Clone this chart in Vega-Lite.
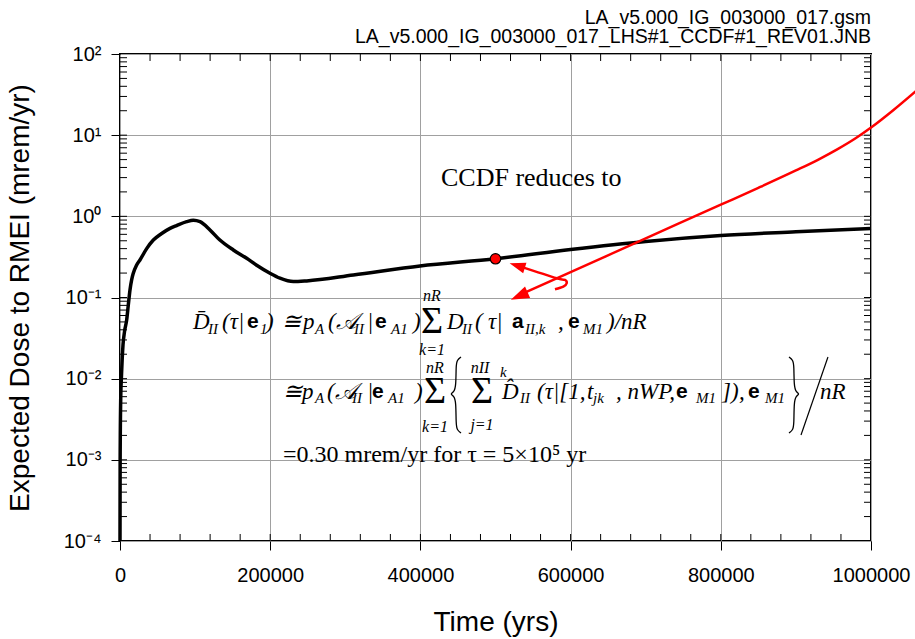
{
  "$schema": "https://vega.github.io/schema/vega-lite/v6.json",
  "width": 751,
  "height": 487,
  "autosize": {"type": "none"},
  "padding": {"left": 120, "top": 54, "right": 44, "bottom": 98},
  "background": "white",
  "title": {"text": ["LA_v5.000_IG_003000_017.gsm", "LA_v5.000_IG_003000_017_LHS#1_CCDF#1_REV01.JNB"], "anchor": "end", "frame": "group", "font": "Liberation Sans", "fontSize": 19.5, "fontWeight": "normal", "color": "black", "lineHeight": 19, "offset": -3},
  "config": {
    "view": {"stroke": "black", "strokeWidth": 2},
    "axis": {"labelFont": "Liberation Sans", "labelFontSize": 20, "labelColor": "black", "titleFont": "Liberation Sans", "titleFontSize": 28, "titleFontWeight": "normal", "titleColor": "black", "tickColor": "black", "tickWidth": 1, "domain": false, "gridColor": "#a0a0a0", "gridOpacity": 1, "gridWidth": 1}
  },
  "datasets": {
    "curve": [{"x":0,"y":0.0001},{"x":200,"y":0.001},{"x":1000,"y":0.006},{"x":2000,"y":0.011},{"x":4000,"y":0.026},{"x":6000,"y":0.038},{"x":8900,"y":0.053},{"x":11000,"y":0.08},{"x":13300,"y":0.124},{"x":15500,"y":0.165},{"x":17700,"y":0.199},{"x":22000,"y":0.25},{"x":26600,"y":0.29},{"x":35500,"y":0.4},{"x":44400,"y":0.51},{"x":55000,"y":0.61},{"x":66600,"y":0.71},{"x":75400,"y":0.77},{"x":88800,"y":0.86},{"x":97600,"y":0.895},{"x":106500,"y":0.86},{"x":119800,"y":0.68},{"x":133000,"y":0.51},{"x":150900,"y":0.385},{"x":168700,"y":0.304},{"x":182000,"y":0.25},{"x":199700,"y":0.199},{"x":213000,"y":0.173},{"x":230800,"y":0.157},{"x":248600,"y":0.16},{"x":310700,"y":0.189},{"x":399500,"y":0.244},{"x":500000,"y":0.3},{"x":600000,"y":0.39},{"x":700000,"y":0.49},{"x":800000,"y":0.58},{"x":900000,"y":0.645},{"x":1000000,"y":0.71}],
    "red": [{"x":533000,"y":0.1085},{"x":600000,"y":0.2058},{"x":700000,"y":0.5353},{"x":800000,"y":1.391},{"x":850000,"y":2.244},{"x":900000,"y":3.673},{"x":930000,"y":5.012},{"x":955000,"y":6.683},{"x":980000,"y":9.226},{"x":1001000,"y":12.59},{"x":1030000,"y":20.42},{"x":1062000,"y":36.31}],
    "hook": [{"i":1,"x":530360,"y":0.2451},{"i":2,"x":581500,"y":0.1725},{"i":3,"x":592500,"y":0.1644},{"i":4,"x":594800,"y":0.1496},{"i":5,"x":590300,"y":0.1358},{"i":6,"x":579200,"y":0.1262}],
    "pt": [{"x":500000,"y":0.3}],
    "ah1": [{"x":533157,"y":0.1062}],
    "ah2": [{"x":530360,"y":0.2451}],
    "slash": [{"x":942700,"y":0.01849},{"x":906800,"y":0.002023}],
    "xminor": [{"v":40000},{"v":80000},{"v":120000},{"v":160000},{"v":200000},{"v":240000},{"v":280000},{"v":320000},{"v":360000},{"v":400000},{"v":440000},{"v":480000},{"v":520000},{"v":560000},{"v":600000},{"v":640000},{"v":680000},{"v":720000},{"v":760000},{"v":800000},{"v":840000},{"v":880000},{"v":920000},{"v":960000}],
    "yminor": [{"v":0.0002},{"v":0.0003},{"v":0.0004},{"v":0.0005},{"v":0.0006},{"v":0.0007},{"v":0.0008},{"v":0.0009},{"v":0.001},{"v":0.002},{"v":0.003},{"v":0.004},{"v":0.005},{"v":0.006},{"v":0.007},{"v":0.008},{"v":0.009},{"v":0.01},{"v":0.02},{"v":0.03},{"v":0.04},{"v":0.05},{"v":0.06},{"v":0.07},{"v":0.08},{"v":0.09},{"v":0.1},{"v":0.2},{"v":0.3},{"v":0.4},{"v":0.5},{"v":0.6},{"v":0.7},{"v":0.8},{"v":0.9},{"v":1},{"v":2},{"v":3},{"v":4},{"v":5},{"v":6},{"v":7},{"v":8},{"v":9},{"v":10},{"v":20},{"v":30},{"v":40},{"v":50},{"v":60},{"v":70},{"v":80},{"v":90}],
    "braces": [
      {"b":"L","i":1,"x":454062,"y":0.01849},{"b":"L","i":2,"x":448736,"y":0.01699},{"b":"L","i":3,"x":447404,"y":0.01433},{"b":"L","i":4,"x":447404,"y":0.008124},{"b":"L","i":5,"x":444741,"y":0.006854},{"b":"L","i":6,"x":439415,"y":0.006476},{"b":"L","i":7,"x":444741,"y":0.006117},{"b":"L","i":8,"x":447404,"y":0.005161},{"b":"L","i":9,"x":447404,"y":0.002765},{"b":"L","i":10,"x":448736,"y":0.002332},{"b":"L","i":11,"x":454062,"y":0.002142},
      {"b":"R","i":1,"x":890814,"y":0.01849},{"b":"R","i":2,"x":896140,"y":0.01699},{"b":"R","i":3,"x":897472,"y":0.01433},{"b":"R","i":4,"x":897472,"y":0.008124},{"b":"R","i":5,"x":900135,"y":0.006854},{"b":"R","i":6,"x":905173,"y":0.006476},{"b":"R","i":7,"x":900135,"y":0.006117},{"b":"R","i":8,"x":897472,"y":0.005161},{"b":"R","i":9,"x":897472,"y":0.002765},{"b":"R","i":10,"x":896140,"y":0.002332},{"b":"R","i":11,"x":890814,"y":0.002142}
    ],
    "ital": [
      {"x":97204,"y":0.04993,"t":"D̄"},{"x":135819,"y":0.04993,"t":"(τ|"},{"x":194408,"y":0.04993,"t":")"},{"x":215713,"y":0.04993,"t":"≅"},{"x":243675,"y":0.04993,"t":"p"},{"x":276964,"y":0.04993,"t":"(𝒜"},{"x":328895,"y":0.04993,"t":"|"},{"x":390147,"y":0.04993,"t":")"},{"x":435420,"y":0.04993,"t":"D"},{"x":472704,"y":0.04993,"t":"("},{"x":490014,"y":0.04993,"t":"τ|"},{"x":583223,"y":0.04993,"t":","},{"x":648470,"y":0.04993,"t":")/nR"},
      {"x":217044,"y":0.006854,"t":"≅"},{"x":242344,"y":0.006854,"t":"p"},{"x":275632,"y":0.006854,"t":"(𝒜"},{"x":328895,"y":0.006854,"t":"|"},{"x":392810,"y":0.006854,"t":")"},{"x":508656,"y":0.006854,"t":"D̂"},{"x":555261,"y":0.006854,"t":"(τ|[1,"},{"x":621838,"y":0.006854,"t":"t"},{"x":660452,"y":0.006854,"t":", nWP,"},{"x":801599,"y":0.006854,"t":"])"},{"x":824235,"y":0.006854,"t":","},{"x":932092,"y":0.006854,"t":"nR"}
    ],
    "sub": [
      {"x":117177,"y":0.04093,"t":"II"},{"x":186418,"y":0.04093,"t":"1"},{"x":259654,"y":0.04093,"t":"A"},{"x":311585,"y":0.04093,"t":"II"},{"x":360853,"y":0.04093,"t":"A1"},{"x":455394,"y":0.04093,"t":"II"},{"x":539282,"y":0.04093,"t":"II,k"},{"x":616512,"y":0.04093,"t":"M1"},
      {"x":259654,"y":0.005781,"t":"A"},{"x":308921,"y":0.005781,"t":"II"},{"x":356858,"y":0.005781,"t":"A1"},{"x":532624,"y":0.005781,"t":"II"},{"x":629828,"y":0.005781,"t":"jk"},{"x":766978,"y":0.005781,"t":"M1"},{"x":858856,"y":0.005781,"t":"M1"},
      {"x":505993,"y":0.01209,"t":"k"}
    ],
    "lim": [{"x":415447,"y":0.1044,"t":"nR"},{"x":415447,"y":0.02256,"t":"k=1"},{"x":419441,"y":0.01354,"t":"nR"},{"x":419441,"y":0.002539,"t":"k=1"},{"x":479362,"y":0.01354,"t":"nII"},{"x":482025,"y":0.002687,"t":"j=1"}],
    "sigma": [{"x":415447,"y":0.04993,"t":"Σ"},{"x":419441,"y":0.006854,"t":"Σ"},{"x":482025,"y":0.006854,"t":"Σ"}],
    "bold": [{"x":169108,"y":0.04993,"t":"e"},{"x":339548,"y":0.04993,"t":"e"},{"x":521972,"y":0.04993,"t":"a"},{"x":596539,"y":0.04993,"t":"e"},{"x":335553,"y":0.006854,"t":"e"},{"x":740347,"y":0.006854,"t":"e"},{"x":836219,"y":0.006854,"t":"e"}],
    "line3": [{"x":217044,"y":0.001148,"t":"=0.30 mrem/yr for τ = 5×10⁵ yr"}],
    "ccdf": [{"x":427431,"y":2.967,"t":"CCDF reduces to"}]
  },
  "resolve": {"axis": {"x": "independent", "y": "independent"}},
  "layer": [
    {
      "data": {"name": "curve"},
      "mark": {"type": "line", "color": "black", "strokeWidth": 3.5, "interpolate": "monotone"},
      "encoding": {
        "x": {"field": "x", "type": "quantitative", "scale": {"domain": [0, 1000000], "nice": false, "zero": false},
              "axis": {"orient": "bottom", "values": [0, 200000, 400000, 600000, 800000, 1000000], "format": "d", "tickSize": 9, "labelPadding": 15, "labelFlush": false, "labelOverlap": false, "grid": true, "title": "Time (yrs)", "titlePadding": 23}},
        "y": {"field": "y", "type": "quantitative", "scale": {"type": "log", "domain": [0.0001, 100], "nice": false},
              "axis": {"orient": "left", "values": [0.0001, 0.001, 0.01, 0.1, 1, 10, 100], "tickSize": 9, "labelPadding": 10, "labelFlush": false, "labelOverlap": false, "grid": true, "title": "Expected Dose to RMEI (mrem/yr)", "titlePadding": 29,
                       "labelExpr": "datum.value >= 99 ? '10²' : datum.value >= 9.9 ? '10¹' : datum.value >= 0.99 ? '10⁰' : datum.value >= 0.099 ? '10⁻¹' : datum.value >= 0.0099 ? '10⁻²' : datum.value >= 0.00099 ? '10⁻³' : '10⁻⁴'"}}
      }
    },
    {
      "data": {"name": "xminor"},
      "mark": {"type": "point", "shape": "M0,0L0,-1", "filled": false, "stroke": "black", "strokeWidth": 1, "opacity": 1, "size": 196},
      "encoding": {
        "x": {"field": "v", "type": "quantitative", "axis": null},
        "y": {"datum": 0.0001, "type": "quantitative", "axis": null}
      }
    },
    {
      "data": {"name": "xminor"},
      "mark": {"type": "point", "shape": "M0,0L0,1", "filled": false, "stroke": "black", "strokeWidth": 1, "opacity": 1, "size": 196},
      "encoding": {
        "x": {"field": "v", "type": "quantitative", "axis": null},
        "y": {"datum": 100, "type": "quantitative", "axis": null}
      }
    },
    {
      "data": {"name": "yminor"},
      "mark": {"type": "point", "shape": "M0,0L1,0", "filled": false, "stroke": "black", "strokeWidth": 1, "opacity": 1, "size": 196},
      "encoding": {
        "x": {"datum": 0, "type": "quantitative", "axis": null},
        "y": {"field": "v", "type": "quantitative", "axis": null}
      }
    },
    {
      "data": {"name": "yminor"},
      "mark": {"type": "point", "shape": "M0,0L-1,0", "filled": false, "stroke": "black", "strokeWidth": 1, "opacity": 1, "size": 196},
      "encoding": {
        "x": {"datum": 1000000, "type": "quantitative", "axis": null},
        "y": {"field": "v", "type": "quantitative", "axis": null}
      }
    },
    {
      "data": {"name": "red"},
      "mark": {"type": "line", "color": "#ff0000", "strokeWidth": 2.5, "interpolate": "monotone", "clip": false},
      "encoding": {
        "x": {"field": "x", "type": "quantitative", "axis": null},
        "y": {"field": "y", "type": "quantitative", "axis": null}
      }
    },
    {
      "data": {"name": "hook"},
      "mark": {"type": "line", "color": "#ff0000", "strokeWidth": 2.5, "interpolate": "cardinal"},
      "encoding": {
        "x": {"field": "x", "type": "quantitative", "axis": null},
        "y": {"field": "y", "type": "quantitative", "axis": null},
        "order": {"field": "i"}
      }
    },
    {
      "data": {"name": "ah1"},
      "mark": {"type": "point", "shape": "M0,-1L0.6,0.75L-0.6,0.75Z", "filled": true, "color": "#ff0000", "opacity": 1, "size": 440, "angle": 246},
      "encoding": {
        "x": {"field": "x", "type": "quantitative", "axis": null},
        "y": {"field": "y", "type": "quantitative", "axis": null}
      }
    },
    {
      "data": {"name": "ah2"},
      "mark": {"type": "point", "shape": "M0,-1L0.6,0.75L-0.6,0.75Z", "filled": true, "color": "#ff0000", "opacity": 1, "size": 330, "angle": 287.5},
      "encoding": {
        "x": {"field": "x", "type": "quantitative", "axis": null},
        "y": {"field": "y", "type": "quantitative", "axis": null}
      }
    },
    {
      "data": {"name": "pt"},
      "mark": {"type": "circle", "color": "#ff0000", "opacity": 1, "size": 110, "stroke": "black", "strokeWidth": 1.2},
      "encoding": {
        "x": {"field": "x", "type": "quantitative", "axis": null},
        "y": {"field": "y", "type": "quantitative", "axis": null}
      }
    },
    {
      "data": {"name": "slash"},
      "mark": {"type": "line", "color": "black", "strokeWidth": 1.2},
      "encoding": {
        "x": {"field": "x", "type": "quantitative", "axis": null},
        "y": {"field": "y", "type": "quantitative", "axis": null}
      }
    },
    {
      "data": {"name": "braces"},
      "mark": {"type": "line", "color": "black", "strokeWidth": 1.3, "interpolate": "basis"},
      "encoding": {
        "x": {"field": "x", "type": "quantitative", "axis": null},
        "y": {"field": "y", "type": "quantitative", "axis": null},
        "detail": {"field": "b"},
        "order": {"field": "i"}
      }
    },
    {
      "data": {"name": "ital"},
      "mark": {"type": "text", "font": "Liberation Serif", "fontSize": 23, "fontStyle": "italic", "align": "left", "baseline": "middle", "color": "black"},
      "encoding": {
        "x": {"field": "x", "type": "quantitative", "axis": null},
        "y": {"field": "y", "type": "quantitative", "axis": null},
        "text": {"field": "t"}
      }
    },
    {
      "data": {"name": "sub"},
      "mark": {"type": "text", "font": "Liberation Serif", "fontSize": 15, "fontStyle": "italic", "align": "left", "baseline": "middle", "color": "black"},
      "encoding": {
        "x": {"field": "x", "type": "quantitative", "axis": null},
        "y": {"field": "y", "type": "quantitative", "axis": null},
        "text": {"field": "t"}
      }
    },
    {
      "data": {"name": "lim"},
      "mark": {"type": "text", "font": "Liberation Serif", "fontSize": 16, "fontStyle": "italic", "align": "center", "baseline": "middle", "color": "black"},
      "encoding": {
        "x": {"field": "x", "type": "quantitative", "axis": null},
        "y": {"field": "y", "type": "quantitative", "axis": null},
        "text": {"field": "t"}
      }
    },
    {
      "data": {"name": "sigma"},
      "mark": {"type": "text", "font": "Liberation Serif", "fontSize": 38, "align": "center", "baseline": "middle", "color": "black"},
      "encoding": {
        "x": {"field": "x", "type": "quantitative", "axis": null},
        "y": {"field": "y", "type": "quantitative", "axis": null},
        "text": {"field": "t"}
      }
    },
    {
      "data": {"name": "bold"},
      "mark": {"type": "text", "font": "Liberation Sans", "fontSize": 21, "fontWeight": "bold", "align": "left", "baseline": "middle", "color": "black"},
      "encoding": {
        "x": {"field": "x", "type": "quantitative", "axis": null},
        "y": {"field": "y", "type": "quantitative", "axis": null},
        "text": {"field": "t"}
      }
    },
    {
      "data": {"name": "line3"},
      "mark": {"type": "text", "font": "Liberation Serif", "fontSize": 24, "align": "left", "baseline": "middle", "color": "black"},
      "encoding": {
        "x": {"field": "x", "type": "quantitative", "axis": null},
        "y": {"field": "y", "type": "quantitative", "axis": null},
        "text": {"field": "t"}
      }
    },
    {
      "data": {"name": "ccdf"},
      "mark": {"type": "text", "font": "Liberation Serif", "fontSize": 26, "align": "left", "baseline": "middle", "color": "black"},
      "encoding": {
        "x": {"field": "x", "type": "quantitative", "axis": null},
        "y": {"field": "y", "type": "quantitative", "axis": null},
        "text": {"field": "t"}
      }
    }
  ]
}
